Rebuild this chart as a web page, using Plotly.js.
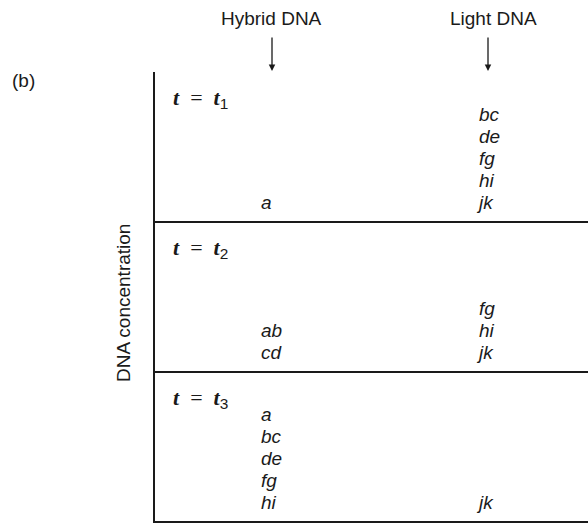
<!DOCTYPE html>
<html><head><meta charset="utf-8">
<script src="https://cdn.plot.ly/plotly-3.0.1.min.js"></script>
<style>html,body{margin:0;padding:0;background:#fff}#chart{width:588px;height:527px}</style>
</head><body><div id="chart"></div>
<script>
// ---- data ----
const panelTag = '(b)';
const yAxisTitle = 'DNA concentration';
const columns = ['Hybrid DNA', 'Light DNA'];
const panelTimes = ['1', '2', '3'];
const hybridBands = [['a'], ['ab', 'cd'], ['a', 'bc', 'de', 'fg', 'hi']];
const lightBands = [['bc', 'de', 'fg', 'hi', 'jk'], ['fg', 'hi', 'jk'], ['jk']];

// ---- layout geometry (pixel-like coordinates) ----
const W = 588, H = 527;
const axisX = 154, axisTop = 72, panelH = 150;
const colX = [261, 479];          // left edge of band labels
const headX = [271, 493];         // header centres
const arrowX = [272, 488];
const fs = 19;
const rowStep = 22, rowBottom = 12, baseShift = 6;
const ink = '#1a1a1a';
const sans = 'Liberation Sans, Arial, sans-serif';

const traces = [];
function bandTrace(bands, ci) {
  const xs = [], ys = [], ts = [];
  bands.forEach((list, p) => {
    const bottom = axisTop + panelH * (p + 1);
    list.forEach((lab, i) => {
      const fromBottom = list.length - 1 - i;
      xs.push(colX[ci]);
      ys.push(bottom - rowBottom - fromBottom * rowStep - baseShift);
      ts.push(lab);
    });
  });
  return {x: xs, y: ys, text: ts, mode: 'text', type: 'scatter', textposition: 'middle right',
    textfont: {family: sans, size: fs, color: ink, style: 'italic'}, hoverinfo: 'skip', showlegend: false};
}
traces.push(bandTrace(hybridBands, 0));
traces.push(bandTrace(lightBands, 1));

// panel time labels
traces.push({
  x: panelTimes.map(() => 173),
  y: panelTimes.map((_, p) => axisTop + panelH * p + 30 - 3),
  text: panelTimes.map(n => '<i><b>t</b></i>\u2002=\u2002<i><b>t</b></i><sub><span style="font-family:Liberation Sans">' + n + '</span></sub>'),
  mode: 'text', type: 'scatter', textposition: 'middle right',
  textfont: {family: 'Liberation Serif, serif', size: 22, color: ink}, hoverinfo: 'skip', showlegend: false
});

const shapes = [
  {type: 'line', xref: 'x', yref: 'y', x0: axisX, x1: axisX, y0: axisTop, y1: axisTop + 3 * panelH + 1, line: {color: ink, width: 2}}
];
for (let p = 1; p <= 3; p++) {
  const y = axisTop + panelH * p;
  shapes.push({type: 'line', xref: 'x', yref: 'y', x0: axisX, x1: W, y0: y, y1: y, line: {color: ink, width: 2}});
}

const annotations = [];
columns.forEach((c, i) => {
  annotations.push({x: headX[i], y: 18, xref: 'x', yref: 'y', text: c, showarrow: false,
    font: {family: sans, size: fs, color: ink}, xanchor: 'center', yanchor: 'middle'});
  annotations.push({x: arrowX[i], y: 71, ax: arrowX[i], ay: 36, xref: 'x', yref: 'y', axref: 'x', ayref: 'y',
    text: '', showarrow: true, arrowhead: 2, arrowsize: 1, arrowwidth: 1.3, arrowcolor: ink});
});
annotations.push({x: 23, y: 80, xref: 'x', yref: 'y', text: panelTag, showarrow: false,
  font: {family: sans, size: 19, color: ink}, xanchor: 'center', yanchor: 'middle'});
annotations.push({x: 123, y: 303, xref: 'x', yref: 'y', text: yAxisTitle, showarrow: false, textangle: -90,
  font: {family: sans, size: fs, color: ink}, xanchor: 'center', yanchor: 'middle'});

const layout = {
  width: W, height: H, margin: {l: 0, r: 0, t: 0, b: 0},
  paper_bgcolor: '#fff', plot_bgcolor: '#fff',
  xaxis: {range: [0, W], visible: false, fixedrange: true},
  yaxis: {range: [H, 0], visible: false, fixedrange: true},
  shapes, annotations, showlegend: false
};
Plotly.newPlot('chart', traces, layout, {staticPlot: true, displayModeBar: false});
</script>
</body></html>
